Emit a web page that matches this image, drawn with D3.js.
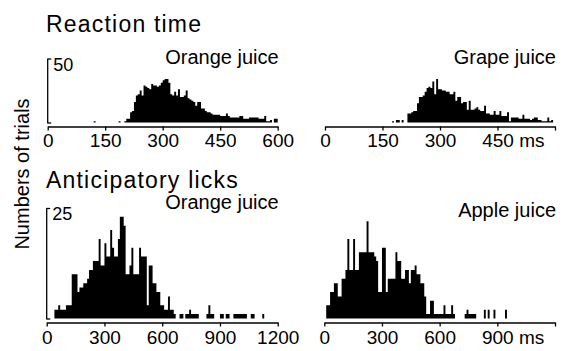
<!DOCTYPE html>
<html>
<head>
<meta charset="utf-8">
<script src="https://cdn.jsdelivr.net/npm/d3@7"></script>
<style>
  html, body { margin: 0; padding: 0; background: #fff; }
  svg { display: block; font-family: "Liberation Sans", Arial, Helvetica, sans-serif; }
</style>
</head>
<body>
<svg id="chart" width="563" height="351"></svg>
<script>
// --- counts per bin
const rtBinMs = 5;      // reaction time bins (ms)
const lickBinMs = 10;   // anticipatory lick bins (ms)
const rtTicks = [0, 150, 300, 450, 600];
const lickTicks = [0, 300, 600, 900, 1200];
const rtMax = 50;
const lickMax = 25;

const rtOrange = [
  0,0,0,0,0,0,0,0,0,0, 0,0,0,0,0,0,0,0,0,0,
  0,0,0,0,1,0,0,0,0,0, 0,0,0,0,0,0,0,1,0,0,
  1,3,3,8,9,16,21,22,25,21, 29,28,27,26,30,29,29,28,29,31,
  33,34,34,31,22,21,24,21,26,20, 20,21,25,19,18,17,16,13,16,16,
  11,11,9,8,8,7,6,6,6,6, 5,5,5,7,5,4,4,4,4,4,
  5,5,3,3,3,4,4,4,4,4, 3,3,3,5,1,1,2,0,3,3
];
const rtGrape = [
  0,0,0,0,0,0,0,0,0,0, 0,0,0,0,0,0,0,0,0,0,
  0,0,0,0,0,0,0,0,0,0, 0,0,0,0,0,1,0,2,2,0,
  2,0,0,7,7,8,9,9,15,20, 20,21,24,27,28,27,32,22,34,26,
  26,25,25,24,24,22,22,24,17,20, 20,15,16,16,10,17,10,10,11,12,
  10,9,9,13,7,7,6,6,9,6, 6,9,5,5,5,8,1,4,4,4,
  4,3,3,6,3,3,3,2,3,4, 4,2,2,1,1,1,4,1,2,0
];
const lickOrange = [
  0,0,0,0,2,2,3,2,2,2, 3,3,3,10,10,10,6,7,7,8,
  8,9,11,11,13,13,13,18,12,12, 17,14,14,20,16,14,14,18,23,23,
  21,10,10,12,16,10,10,10,16,14, 14,14,3,12,12,8,8,6,6,3,
  3,2,2,5,2,2,1,0,0,1, 1,0,1,1,2,1,1,1,1,0,
  0,0,0,1,3,1,1,0,0,0, 1,1,0,1,1,0,0,1,1,1,
  1,1,1,1,0,0,1,1,0,0, 0,0,1,0,0,0,0,0,0,0
];
const lickApple = [
  0,3,3,6,6,8,8,5,5,9, 9,11,18,11,11,18,11,11,15,15,
  15,15,22,15,15,15,14,13,6,6, 16,16,6,9,9,9,9,15,13,13,
  9,9,11,11,8,11,11,12,10,10, 8,8,5,1,1,4,4,1,1,1,
  1,1,3,1,1,1,3,1,0,0, 0,0,0,1,2,1,1,1,1,0,
  0,0,0,2,0,2,0,0,2,0, 0,0,0,0,2,0,0,0,0,0,
  0,0,0,0,0,0,0,0,0,0, 0,0,0,0,0,0,0,0,0,0
];

const titles = ['Reaction time', 'Anticipatory licks'];
const yTitle = 'Numbers of trials';

// --- panel layout
const panels = [
  { counts: rtOrange, bin: rtBinMs, ticks: rtTicks, max: rtMax, label: 'Orange juice',
    xr: [47.7, 277.7], yr: [122.5, 58.5], axisY: 126.5, pad: 3, yAxis: true, unit: false, labelY: 64 },
  { counts: rtGrape, bin: rtBinMs, ticks: rtTicks, max: rtMax, label: 'Grape juice',
    xr: [325, 555], yr: [122.5, 58.5], axisY: 126.5, pad: 3, yAxis: false, unit: true, labelY: 64 },
  { counts: lickOrange, bin: lickBinMs, ticks: lickTicks, max: lickMax, label: 'Orange juice',
    xr: [46.7, 277.7], yr: [318.5, 208], axisY: 322.5, pad: 4, yAxis: true, unit: false, labelY: 209 },
  { counts: lickApple, bin: lickBinMs, ticks: lickTicks, max: lickMax, label: 'Apple juice',
    xr: [324.3, 555], yr: [318.5, 208], axisY: 322.5, pad: 4, yAxis: false, unit: true, labelY: 217 }
];

const svg = d3.select('#chart');

panels.forEach(p => {
  const last = p.ticks[p.ticks.length - 1];
  const x = d3.scaleLinear().domain([0, last]).range(p.xr);
  const y = d3.scaleLinear().domain([0, p.max]).range(p.yr);

  // histogram as one stepped area
  const pts = p.counts.map((c, i) => ({ t: i * p.bin, c }));
  pts.push({ t: p.counts.length * p.bin, c: 0 });
  const area = d3.area()
    .curve(d3.curveStepAfter)
    .x(d => x(d.t))
    .y0(y(0))
    .y1(d => y(d.c));
  svg.append('path').datum(pts).attr('d', area).attr('fill', '#000');

  // x axis
  const gx = svg.append('g')
    .attr('transform', `translate(0,${p.axisY})`)
    .call(d3.axisBottom(x)
      .tickValues(p.ticks)
      .tickSize(4)
      .tickSizeOuter(0)
      .tickPadding(p.pad)
      .tickFormat(d => (p.unit && d === last) ? '' : d));
  gx.attr('font-family', null).attr('font-size', null);
  gx.select('.domain').attr('stroke-width', 1.3);
  gx.selectAll('.tick line').attr('stroke-width', 1.3);
  gx.selectAll('.tick text').attr('font-size', 19).attr('fill', '#000');

  if (p.unit) {
    // "450 ms" / "900 ms": number stays centred on its tick
    const t = gx.selectAll('.tick text').filter(d => d === p.ticks[p.ticks.length - 2]);
    const w = t.node().getComputedTextLength();
    t.attr('text-anchor', 'start').attr('x', -w / 2).text(t.text() + ' ms');
  }

  // y axis: bracket with the top value only
  if (p.yAxis) {
    const gy = svg.append('g')
      .attr('transform', `translate(${p.xr[0] - 0.5},0)`)
      .call(d3.axisRight(y)
        .tickValues([0, p.max])
        .tickSize(4)
        .tickSizeOuter(0)
        .tickPadding(2)
        .tickFormat(d => d === p.max ? d : ''));
    gy.attr('font-family', null).attr('font-size', null);
    gy.select('.domain').attr('stroke-width', 1.3);
    gy.selectAll('.tick line').attr('stroke-width', 1.3);
    gy.selectAll('.tick text').attr('font-size', 18).attr('dy', '0.72em').attr('y', -1).attr('fill', '#000');
  }

  svg.append('text')
    .attr('x', p.xr[1] + 1)
    .attr('y', p.labelY)
    .attr('text-anchor', 'end')
    .attr('font-size', 20)
    .text(p.label);
});

// section titles
svg.append('text').attr('x', 46).attr('y', 32).attr('font-size', 23)
  .attr('letter-spacing', 1.2).text(titles[0]);
svg.append('text').attr('x', 46).attr('y', 188).attr('font-size', 23)
  .attr('letter-spacing', 1.2).text(titles[1]);

// shared y title
svg.append('text')
  .attr('transform', 'translate(29,174) rotate(-90)')
  .attr('text-anchor', 'middle')
  .attr('font-size', 20)
  .text(yTitle);
</script>
</body>
</html>
